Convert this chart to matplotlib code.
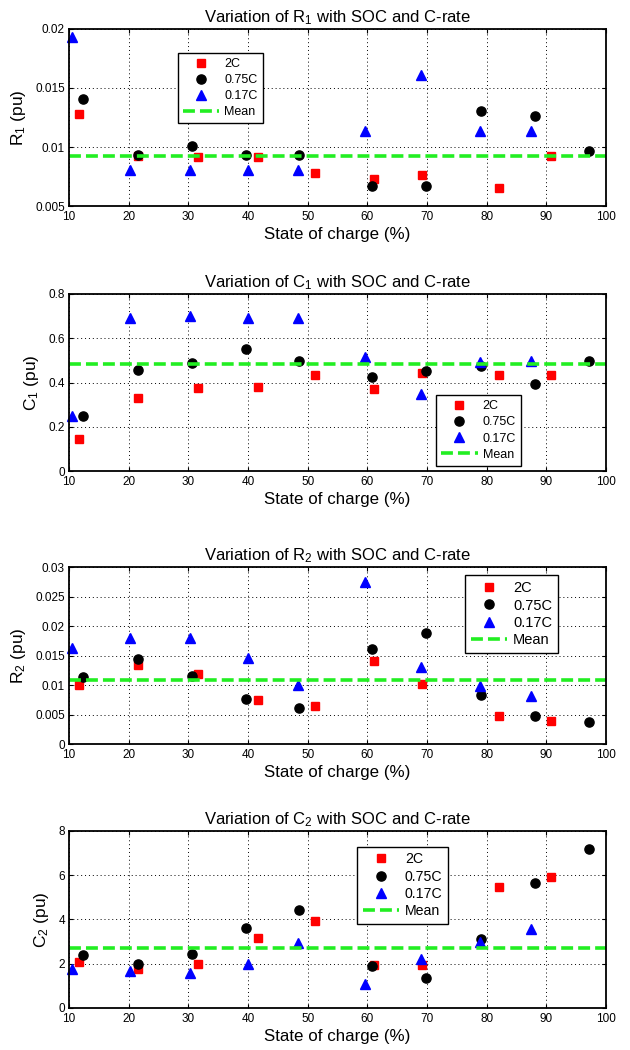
import numpy as np
import matplotlib
matplotlib.use('Agg')
import matplotlib.pyplot as plt
from matplotlib.ticker import FuncFormatter

plt.rcParams['font.family'] = ['Liberation Sans', 'DejaVu Sans']
plt.rcParams['mathtext.fontset'] = 'custom'
plt.rcParams['mathtext.rm'] = 'Liberation Sans'
plt.rcParams['mathtext.it'] = 'Liberation Sans:italic'

# state of charge for each C-rate test
soc_2c = [11.6, 21.6, 31.7, 41.7, 51.2, 61.2, 69.2, 82.0, 90.8]
soc_075c = [12.4, 21.5, 30.6, 39.7, 48.6, 60.7, 69.8, 79.0, 88.1, 97.1]
soc_017c = [10.5, 20.3, 30.2, 40.0, 48.3, 59.6, 69.0, 78.9, 87.5]

# R1
r1_2c = [0.0128, 0.00925, 0.00914, 0.00914, 0.00781, 0.00731, 0.00762, 0.00655, 0.00924]
r1_075c = [0.01406, 0.00933, 0.01007, 0.00936, 0.00936, 0.00672, 0.00672, 0.01302, 0.01265, 0.00967]
r1_017c = [0.0193, 0.00807, 0.00807, 0.00807, 0.00807, 0.01133, 0.01614, 0.01133, 0.01133]
r1_mean = 0.0092

# C1
c1_2c = [0.143, 0.331, 0.376, 0.379, 0.436, 0.370, 0.445, 0.433, 0.436]
c1_075c = [0.250, 0.457, 0.487, 0.550, 0.499, 0.426, 0.450, 0.475, 0.392, 0.496]
c1_017c = [0.247, 0.692, 0.701, 0.692, 0.692, 0.517, 0.346, 0.492, 0.495]
c1_mean = 0.483

# R2
r2_2c = [0.01008, 0.01347, 0.01189, 0.00742, 0.0064, 0.01415, 0.01025, 0.00481, 0.00391]
r2_075c = [0.01132, 0.01443, 0.01155, 0.00758, 0.00617, 0.01602, 0.01885, 0.00832, 0.0047, 0.00379]
r2_017c = [0.0163, 0.01789, 0.01789, 0.0146, 0.00996, 0.02751, 0.01302, 0.00985, 0.00821]
r2_mean = 0.0109

# C2
c2_2c = [2.10, 1.74, 2.01, 3.18, 3.94, 1.96, 1.93, 5.49, 5.90]
c2_075c = [2.40, 2.01, 2.45, 3.62, 4.44, 1.90, 1.34, 3.14, 5.66, 7.20]
c2_017c = [1.78, 1.65, 1.58, 1.99, 2.94, 1.09, 2.20, 2.96, 3.55]
c2_mean = 2.72

# symbol, subscript, series, mean, ylim, ystep, legend anchor, legend font, label spacing
panels = [
    ('R', '1', r1_2c, r1_075c, r1_017c, r1_mean, (0.005, 0.02), 0.005, (0.203, 0.865), 9, 0.33),
    ('C', '1', c1_2c, c1_075c, c1_017c, c1_mean, (0, 0.8), 0.2, (0.684, 0.428), 9, 0.33),
    ('R', '2', r2_2c, r2_075c, r2_017c, r2_mean, (0, 0.03), 0.005, (0.738, 0.952), 10.5, 0.22),
    ('C', '2', c2_2c, c2_075c, c2_017c, c2_mean, (0, 8), 2, (0.537, 0.912), 10.2, 0.24),
]

fig = plt.figure(figsize=(6.3, 10.5), dpi=100)
bottoms = [0.8038, 0.5514, 0.2914, 0.040]

for (sym, sub, y2, y075, y017, ymean, ylim, ystep, legpos, legfs, lsp), b in zip(panels, bottoms):
    ax = fig.add_axes([0.1095, b, 0.8524, 0.1686])
    ax.plot(soc_2c, y2, 's', color='#ff0000', ms=6.2, mec='#ff0000', label='2C', clip_on=False)
    ax.plot(soc_075c, y075, 'o', color='black', ms=6.6, label='0.75C', clip_on=False)
    ax.plot(soc_017c, y017, '^', color='#0000ff', ms=7.5, mec='#0000ff', label='0.17C', clip_on=False)
    ax.axhline(ymean, color='#22ee22', lw=2.6, ls=(0, (3.3, 1.4)), label='Mean')
    ax.set_xlim(10, 100)
    ax.set_ylim(*ylim)
    ax.set_xticks(np.arange(10, 101, 10))
    ax.set_yticks(np.arange(ylim[0], ylim[1] + ystep / 2, ystep))
    ax.yaxis.set_major_formatter(FuncFormatter(lambda v, p: '%g' % round(v, 6)))
    ax.grid(True, color='black', ls=(0, (1, 3)), lw=0.7)
    ax.tick_params(direction='in', length=3, labelsize=8.5, top=True, right=True)
    ax.tick_params(axis='x', pad=3.5)
    ax.tick_params(axis='y', pad=3)
    for s in ax.spines.values():
        s.set_linewidth(1.3)
    ax.set_title('Variation of %s$_{%s}$ with SOC and C-rate' % (sym, sub), fontsize=12, pad=5)
    ax.set_xlabel('State of charge (%)', fontsize=12.2, labelpad=3)
    ax.set_ylabel('%s$_{%s}$ (pu)' % (sym, sub), fontsize=12.5, labelpad=5)
    leg = ax.legend(loc='upper left', bbox_to_anchor=legpos, fontsize=legfs, fancybox=False,
                    framealpha=1, edgecolor='black', handlelength=2.9 * 9 / legfs,
                    handletextpad=0.4, borderpad=0.4, labelspacing=lsp, borderaxespad=0)
    leg.get_frame().set_linewidth(1.0)

fig.savefig('out.png', dpi=100)
